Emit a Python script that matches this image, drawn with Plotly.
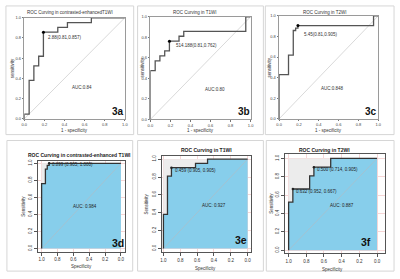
import plotly.graph_objects as go

W, H = 400, 279

# ---------------- data ----------------
# Top row (1 - specificity, sensitivity)
a_fpr = [0, 0, 0.048, 0.095, 0.143, 0.19, 0.333, 0.429, 0.667, 1.0]
a_tpr = [0, 0.048, 0.381, 0.524, 0.619, 0.857, 0.905, 0.952, 1.0, 1.0]
b_fpr = [0, 0, 0.048, 0.095, 0.143, 0.19, 0.286, 0.333, 0.952, 1.0]
b_tpr = [0, 0.476, 0.571, 0.619, 0.667, 0.762, 0.81, 0.857, 1.0, 1.0]
c_fpr = [0, 0, 0.095, 0.143, 0.167, 0.19, 0.952, 1.0]
c_tpr = [0, 0.429, 0.619, 0.857, 0.881, 0.905, 1.0, 1.0]
top_points = [(0.19, 0.857), (0.19, 0.762), (0.19, 0.905)]
top_thr_labels = ["2.88(0.81,0.857)", "514.188(0.81,0.762)", "5.45(0.81,0.905)"]
top_auc = ["AUC:0.84", "AUC:0.80", "AUC:0.848"]
top_titles = ["ROC Curving in contrasted-enhancedT1WI", "ROC Curving in T1WI", "ROC Curving in T2WI"]
top_tags = ["3a", "3b", "3c"]

# Bottom row (specificity, sensitivity)
d_spec = [1, 1, 0.952, 0.929, 0.905, 0.0]
d_sens = [0, 0.762, 0.933, 0.976, 1.0, 1.0]
e_spec = [1, 1, 0.952, 0.905, 0.619, 0.476, 0.0]
e_sens = [0, 0.381, 0.81, 0.905, 0.952, 1.0, 1.0]
f_spec = [1, 1, 0.952, 0.762, 0.714, 0.524, 0.0]
f_sens = [0, 0.524, 0.667, 0.81, 0.905, 1.0, 1.0]
bot_points = [[(0.905, 1.0)], [(0.905, 0.905)], [(0.952, 0.667), (0.714, 0.905)]]
bot_thr_labels = [["0.899 (0.905, 1.000)"], ["0.459 (0.905, 0.905)"],
                  ["0.632 (0.952, 0.667)", "0.500 (0.714, 0.905)"]]
bot_auc = ["AUC: 0.984", "AUC: 0.927", "AUC: 0.887"]
bot_titles = ["ROC Curving in contrasted-enhanced T1WI", "ROC Curving in T1WI", "ROC Curving in T2WI"]
bot_tags = ["3d", "3e", "3f"]

tick_vals = [0, 0.2, 0.4, 0.6, 0.8, 1.0]
tick_text = ["0.0", "0.2", "0.4", "0.6", "0.8", "1.0"]

# ---------------- layout geometry (pixels) ----------------
top_box = [(21.7, 124, 15, 118), (150, 252, 14, 118.5), (281, 382, 13, 118)]
top_thr_pos = [(0.22, 0.80), (0.236, 0.72), (0.23, 0.82)]
top_auc_pos = [(0.57, 0.31), (0.64, 0.29), (0.54, 0.29)]
top_title_x = [68, 195, 327]
top_ylab_x = [9, 142, 271]
top_outer = [(3, 133, 3, 134), (137, 265, 3, 134), (267, 398, 3, 134)]

bot_frame = [(35.7, 124, 160.5, 253.3), (161.7, 252, 155.7, 254), (287, 389, 153.5, 255)]
bot_data = [(39.3, 120, 163.3, 250), (163.3, 249, 159, 250), (290.7, 380.7, 158.3, 251.7)]
bot_thr_pos = [[(0.897, 0.99)], [(0.89, 0.87)], [(0.944, 0.64), (0.70, 0.88)]]
bot_auc_pos = [(0.45, 0.49), (0.40, 0.476), (0.40, 0.49)]
bot_tag_pos = [(0.04, 0.07), (0.08, 0.09), (0.12, 0.09)]
bot_title_xy = [(78, 155), (207, 150), (327, 150)]
bot_xlab_xy = [(80, 268), (206, 270), (335, 271)]
bot_ylab_x = [21, 146, 273]
bot_outer = [(4, 132, 140, 273), (137, 265, 140, 273), (268, 398, 140, 273)]

FONT = "Liberation Sans, Arial, sans-serif"


def dx(a, b):
    return [a / W, b / W]


def dy(top, bot):
    return [1 - bot / H, 1 - top / H]


def ann(**kw):
    kw.setdefault("xanchor", "center")
    kw.setdefault("yanchor", "middle")
    kw.setdefault("showarrow", False)
    return kw


fig = go.Figure()
layout = {}
annotations = []
shapes = []

# ---------------- top row ----------------
top_data = [(a_fpr, a_tpr), (b_fpr, b_tpr), (c_fpr, c_tpr)]
for i in range(3):
    n = i + 1
    xa = "x" if n == 1 else f"x{n}"
    ya = "y" if n == 1 else f"y{n}"
    x0, x1, yt, yb = top_box[i]
    fx, fy = top_data[i]
    fig.add_trace(go.Scatter(x=[0, 1], y=[0, 1], mode="lines",
                             line=dict(color="#cfcfcf", width=0.8),
                             xaxis=xa, yaxis=ya, hoverinfo="skip", showlegend=False))
    fig.add_trace(go.Scatter(x=fx, y=fy, mode="lines", line_shape="hv",
                             line=dict(color="#555555", width=1.3),
                             xaxis=xa, yaxis=ya, showlegend=False))
    px, py = top_points[i]
    fig.add_trace(go.Scatter(x=[px], y=[py], mode="markers",
                             marker=dict(color="black", size=3),
                             xaxis=xa, yaxis=ya, showlegend=False))
    common = dict(range=[0, 1], showline=True, mirror=True, linecolor="#9a9a9a", linewidth=1,
                  showgrid=False, zeroline=False, ticks="outside", ticklen=1.5, tickwidth=0.6,
                  tickcolor="#777", tickvals=tick_vals, ticktext=tick_text,
                  tickfont=dict(size=4, color="#444", family=FONT))
    layout["xaxis" if n == 1 else f"xaxis{n}"] = dict(domain=dx(x0, x1), anchor=ya, **common)
    layout["yaxis" if n == 1 else f"yaxis{n}"] = dict(domain=dy(yt, yb), anchor=xa, **common)

    tx, ty = top_thr_pos[i]
    annotations.append(ann(x=tx, y=ty, xref=xa, yref=ya, text=top_thr_labels[i],
                           xanchor="left", font=dict(size=4.5, color="#333", family=FONT)))
    ax_, ay_ = top_auc_pos[i]
    annotations.append(ann(x=ax_, y=ay_, xref=xa, yref=ya, text=top_auc[i],
                           font=dict(size=4.5, color="#333", family=FONT)))
    annotations.append(ann(x=0.93, y=0.075, xref=xa, yref=ya, text="<b>" + top_tags[i] + "</b>",
                           font=dict(size=10, color="#111", family=FONT)))
    annotations.append(ann(x=top_title_x[i] / W, y=1 - 10 / H, xref="paper", yref="paper",
                           text=top_titles[i], font=dict(size=4.5, color="#333", family=FONT)))
    annotations.append(ann(x=(x0 + x1) / 2 / W, y=1 - 130 / H, xref="paper", yref="paper",
                           text="1 - specificity", font=dict(size=4.5, color="#333", family=FONT)))
    annotations.append(ann(x=top_ylab_x[i] / W, y=1 - ((yt + yb) / 2) / H, xref="paper",
                           yref="paper", text="sensitivity", textangle=-90,
                           font=dict(size=4.5, color="#333", family=FONT)))
    ox0, ox1, oy0, oy1 = top_outer[i]
    shapes.append(dict(type="rect", xref="paper", yref="paper", x0=ox0 / W, x1=ox1 / W,
                       y0=1 - oy1 / H, y1=1 - oy0 / H, line=dict(color="#d6d6d6", width=1)))

# ---------------- bottom row ----------------
bot_curves = [(d_spec, d_sens), (e_spec, e_sens), (f_spec, f_sens)]
for i in range(3):
    n = i + 4
    xa, ya = f"x{n}", f"y{n}"
    fx0, fx1, fyt, fyb = bot_frame[i]
    px1, px0, py1, py0 = bot_data[i]
    ux = (px0 - px1)
    uy = (py0 - py1)
    xr = [1 + (px1 - fx0) / ux, -(fx1 - px0) / ux]
    yr = [-(fyb - py0) / uy, 1 + (py1 - fyt) / uy]
    sx, sy = bot_curves[i]
    fig.add_trace(go.Scatter(x=list(sx) + [1], y=list(sy) + [1], mode="lines", line_shape="hv",
                             fill="toself", fillcolor="#ececec", line=dict(width=0),
                             xaxis=xa, yaxis=ya, hoverinfo="skip", showlegend=False))
    fig.add_trace(go.Scatter(x=sx, y=sy, mode="lines", line_shape="hv", fill="tozeroy",
                             fillcolor="#87ceeb", line=dict(width=0),
                             xaxis=xa, yaxis=ya, hoverinfo="skip", showlegend=False))
    fig.add_trace(go.Scatter(x=[1, 0], y=[0, 1], mode="lines",
                             line=dict(color="#a9bfca", width=0.8),
                             xaxis=xa, yaxis=ya, hoverinfo="skip", showlegend=False))
    fig.add_trace(go.Scatter(x=sx, y=sy, mode="lines", line_shape="hv",
                             line=dict(color="#333333", width=1.3),
                             xaxis=xa, yaxis=ya, showlegend=False))
    pts = bot_points[i]
    fig.add_trace(go.Scatter(x=[p[0] for p in pts], y=[p[1] for p in pts], mode="markers",
                             marker=dict(color="#222", size=2.5),
                             xaxis=xa, yaxis=ya, showlegend=False))
    common = dict(showline=True, mirror=True, linecolor="#555", linewidth=0.8,
                  showgrid=True, gridcolor="#f6d6d6", gridwidth=0.6, zeroline=False,
                  ticks="outside", ticklen=3, tickwidth=0.6, tickcolor="#555",
                  tickvals=tick_vals, ticktext=tick_text,
                  tickfont=dict(size=4.5, color="#333", family=FONT))
    layout[f"xaxis{n}"] = dict(domain=dx(fx0, fx1), anchor=ya, range=xr, **common)
    layout[f"yaxis{n}"] = dict(domain=dy(fyt, fyb), anchor=xa, range=yr, tickangle=-90, **common)

    for (tx, ty), lab in zip(bot_thr_pos[i], bot_thr_labels[i]):
        annotations.append(ann(x=tx, y=ty, xref=xa, yref=ya, text=lab, xanchor="left",
                               font=dict(size=4.5, color="#222", family=FONT)))
    ax_, ay_ = bot_auc_pos[i]
    annotations.append(ann(x=ax_, y=ay_, xref=xa, yref=ya, text=bot_auc[i],
                           font=dict(size=4.5, color="#222", family=FONT)))
    gx, gy = bot_tag_pos[i]
    annotations.append(ann(x=gx, y=gy, xref=xa, yref=ya, text="<b>" + bot_tags[i] + "</b>",
                           font=dict(size=10.5, color="#111", family=FONT)))
    tx_, ty_ = bot_title_xy[i]
    annotations.append(ann(x=tx_ / W, y=1 - ty_ / H, xref="paper", yref="paper",
                           text="<b>" + bot_titles[i] + "</b>",
                           font=dict(size=5, color="#222", family=FONT)))
    lx, ly = bot_xlab_xy[i]
    annotations.append(ann(x=lx / W, y=1 - ly / H, xref="paper", yref="paper",
                           text="Specificity", font=dict(size=4.5, color="#333", family=FONT)))
    annotations.append(ann(x=bot_ylab_x[i] / W, y=1 - ((fyt + fyb) / 2) / H, xref="paper",
                           yref="paper", text="Sensitivity", textangle=-90,
                           font=dict(size=4.5, color="#333", family=FONT)))
    ox0, ox1, oy0, oy1 = bot_outer[i]
    shapes.append(dict(type="rect", xref="paper", yref="paper", x0=ox0 / W, x1=ox1 / W,
                       y0=1 - oy1 / H, y1=1 - oy0 / H, line=dict(color="#d6d6d6", width=1)))

fig.update_layout(width=W, height=H, margin=dict(l=0, r=0, t=0, b=0),
                  paper_bgcolor="white", plot_bgcolor="white",
                  annotations=annotations, shapes=shapes, showlegend=False, **layout)

fig.write_html("out.html", config={"displayModeBar": False},
               post_script="document.body.style.margin='0';document.body.style.padding='0';")
